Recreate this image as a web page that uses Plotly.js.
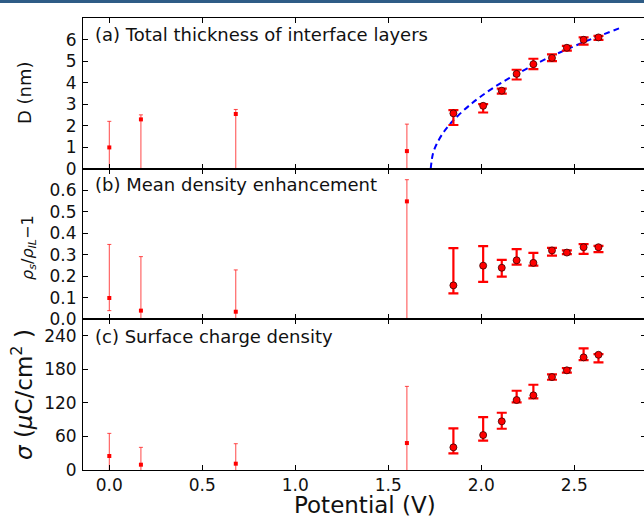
<!DOCTYPE html>
<html>
<head>
<meta charset="utf-8">
<script src="https://cdn.plot.ly/plotly-3.0.1.min.js"></script>
<style>
html,body{margin:0;padding:0;background:#fff;overflow:hidden;width:644px;height:516px;}
#topbar{position:absolute;left:0;top:0;width:644px;height:3px;background:#2e5c86;z-index:10;}
#chart{position:absolute;left:0;top:0;width:646px;height:516px;}
</style>
</head>
<body>
<div id="topbar"></div>
<div id="chart"></div>
<script>
// ---- data ----
var smallV = [0.0, 0.17, 0.68, 1.60];
var smallD = [1.00, 2.30, 2.55, 0.83];
var smallDUp = [2.21, 2.51, 2.76, 2.08];
var smallDLow = [-0.3, -0.3, -0.3, -0.3];
var smallRho = [0.098, 0.039, 0.034, 0.549];
var smallRhoUp = [0.348, 0.291, 0.229, 0.650];
var smallRhoLow = [0.039, -0.05, -0.05, -0.05];
var smallSig = [25, 9.5, 11.3, 48.2];
var smallSigUp = [65.5, 40.5, 47, 149.5];
var smallSigLow = [-15, -21, -24, -53];

var bigV = [1.85, 2.01, 2.11, 2.19, 2.28, 2.38, 2.46, 2.55, 2.63];
var bigD = [2.58, 2.93, 3.63, 4.41, 4.86, 5.15, 5.62, 5.99, 6.10];
var bigDUp = [2.73, 3.01, 3.73, 4.60, 5.11, 5.31, 5.71, 6.10, 6.17];
var bigDLow = [2.04, 2.62, 3.49, 4.15, 4.63, 5.00, 5.49, 5.77, 5.99];
var bigRho = [0.157, 0.249, 0.239, 0.274, 0.262, 0.320, 0.310, 0.335, 0.335];
var bigRhoUp = [0.331, 0.340, 0.276, 0.326, 0.309, 0.332, 0.320, 0.349, 0.341];
var bigRhoLow = [0.120, 0.173, 0.198, 0.254, 0.249, 0.296, 0.303, 0.304, 0.312];
var bigSig = [40.5, 62.5, 87, 125.1, 133.5, 166.2, 178.2, 201.4, 206];
var bigSigUp = [74.5, 94.7, 102.4, 141.7, 152.4, 171, 182.3, 217.5, 207.3];
var bigSigLow = [29.8, 52.4, 73.8, 121, 128, 161.4, 174, 196.6, 192.5];

var fitV = [1.728, 1.74, 1.76, 1.80, 1.85, 1.95, 2.05, 2.15, 2.30, 2.45, 2.60, 2.76];
var fitD = [0.0, 0.71, 1.16, 1.74, 2.26, 3.05, 3.68, 4.21, 4.90, 5.51, 6.05, 6.58];

var yTitleD = 'D (nm)';
var yTitleRho = '<i>ρ</i><sub><i>s</i></sub>/<i>ρ</i><sub><i>IL</i></sub>−1';
var yTitleSig = '<i>σ</i> (<i>μ</i>C/cm<sup>2</sup> )';
var xTitle = 'Potential (V)';
var panelTitles = ['(a) Total thickness of interface layers', '(b) Mean density enhancement', '(c) Surface charge density'];

function diff(a, b) { return a.map(function (v, i) { return v - b[i]; }); }

var RED = '#ff0000';
function smallTrace(y, up, low, xa, ya) {
  return {
    x: smallV, y: y, type: 'scatter', mode: 'markers', xaxis: xa, yaxis: ya,
    marker: {color: RED, size: 4, symbol: 'square'},
    error_y: {type: 'data', symmetric: false, array: diff(up, y), arrayminus: diff(y, low),
              color: 'rgba(255,40,40,0.85)', thickness: 1, width: 2},
    showlegend: false, hoverinfo: 'x+y'
  };
}
function bigTrace(y, up, low, xa, ya) {
  return {
    x: bigV, y: y, type: 'scatter', mode: 'markers', xaxis: xa, yaxis: ya,
    marker: {color: RED, size: 7, line: {color: '#3a0000', width: 0.8}},
    error_y: {type: 'data', symmetric: false, array: diff(up, y), arrayminus: diff(y, low),
              color: RED, thickness: 2.2, width: 5},
    showlegend: false, hoverinfo: 'x+y'
  };
}

var traces = [
  {x: fitV, y: fitD, type: 'scatter', mode: 'lines', xaxis: 'x', yaxis: 'y',
   line: {color: '#0000ff', width: 2, dash: '6px,4px', shape: 'spline'}, showlegend: false},
  smallTrace(smallD, smallDUp, smallDLow, 'x', 'y'),
  bigTrace(bigD, bigDUp, bigDLow, 'x', 'y'),
  smallTrace(smallRho, smallRhoUp, smallRhoLow, 'x2', 'y2'),
  bigTrace(bigRho, bigRhoUp, bigRhoLow, 'x2', 'y2'),
  smallTrace(smallSig, smallSigUp, smallSigLow, 'x3', 'y3'),
  bigTrace(bigSig, bigSigUp, bigSigLow, 'x3', 'y3')
];

var FONT = 'DejaVu Sans, sans-serif';
var H = 452;
var dA = [(470 - 169) / H, 1];
var dB = [(470 - 319) / H, (470 - 169) / H];
var dC = [0, (470 - 319) / H];
var xr = [-0.1414, 2.8855];

function xax(anchor, labels) {
  return {
    range: xr, anchor: anchor, showgrid: false, zeroline: false,
    showline: true, linecolor: '#000', linewidth: 1, mirror: 'ticks',
    ticks: 'inside', ticklen: 5, tickcolor: '#000', tickwidth: 1,
    tickmode: 'array', tickvals: [0, 0.5, 1.0, 1.5, 2.0, 2.5],
    ticktext: ['0.0', '0.5', '1.0', '1.5', '2.0', '2.5'],
    showticklabels: labels, tickfont: {family: FONT, size: 17, color: '#111'}
  };
}
function yax(anchor, dom, range, vals, texts) {
  return {
    domain: dom, range: range, anchor: anchor, showgrid: false, zeroline: false,
    showline: true, linecolor: '#000', linewidth: 1, mirror: 'ticks',
    ticks: 'inside', ticklen: 5, tickcolor: '#000', tickwidth: 1,
    tickmode: 'array', tickvals: vals, ticktext: texts,
    tickfont: {family: FONT, size: 17, color: '#111'}, ticklabelstandoff: 2
  };
}

var layout = {
  width: 646, height: 516,
  margin: {l: 83, r: 0, t: 18, b: 46},
  paper_bgcolor: '#fff', plot_bgcolor: '#fff',
  font: {family: FONT, color: '#111'},
  xaxis: xax('y', false),
  xaxis2: Object.assign(xax('y2', false), {matches: 'x'}),
  xaxis3: Object.assign(xax('y3', true), {matches: 'x'}),
  yaxis: yax('x', dA, [0, 7], [0, 1, 2, 3, 4, 5, 6], ['0', '1', '2', '3', '4', '5', '6']),
  yaxis2: yax('x2', dB, [0, 0.7], [0, 0.1, 0.2, 0.3, 0.4, 0.5, 0.6], ['0.0', '0.1', '0.2', '0.3', '0.4', '0.5', '0.6']),
  yaxis3: yax('x3', dC, [0, 270], [0, 60, 120, 180, 240], ['0', '60', '120', '180', '240']),
  annotations: [
    {text: panelTitles[0], xref: 'paper', yref: 'paper', x: 0.0178, y: (470 - 34) / H, xanchor: 'left', yanchor: 'middle', showarrow: false, font: {family: FONT, size: 18, color: '#111'}},
    {text: panelTitles[1], xref: 'paper', yref: 'paper', x: 0.0178, y: (470 - 185) / H, xanchor: 'left', yanchor: 'middle', showarrow: false, font: {family: FONT, size: 18, color: '#111'}},
    {text: panelTitles[2], xref: 'paper', yref: 'paper', x: 0.0178, y: (470 - 336) / H, xanchor: 'left', yanchor: 'middle', showarrow: false, font: {family: FONT, size: 18, color: '#111'}},
    {text: yTitleD, xref: 'paper', yref: 'paper', x: (25 - 83) / 563, y: (470 - 93) / H, xanchor: 'center', yanchor: 'middle', textangle: -90, showarrow: false, font: {family: FONT, size: 18, color: '#111'}},
    {text: yTitleRho, xref: 'paper', yref: 'paper', x: (28 - 83) / 563, y: (470 - 248) / H, xanchor: 'center', yanchor: 'middle', textangle: -90, showarrow: false, font: {family: FONT, size: 16, color: '#111'}},
    {text: yTitleSig, xref: 'paper', yref: 'paper', x: (22 - 83) / 563, y: (470 - 395) / H, xanchor: 'center', yanchor: 'middle', textangle: -90, showarrow: false, font: {family: FONT, size: 23, color: '#111'}},
    {text: xTitle, xref: 'paper', yref: 'paper', x: (364.5 - 83) / 563, y: (470 - 505) / H, xanchor: 'center', yanchor: 'middle', showarrow: false, font: {family: FONT, size: 23, color: '#111'}}
  ]
};

Plotly.newPlot('chart', traces, layout, {staticPlot: true, displayModeBar: false});
</script>
</body>
</html>
